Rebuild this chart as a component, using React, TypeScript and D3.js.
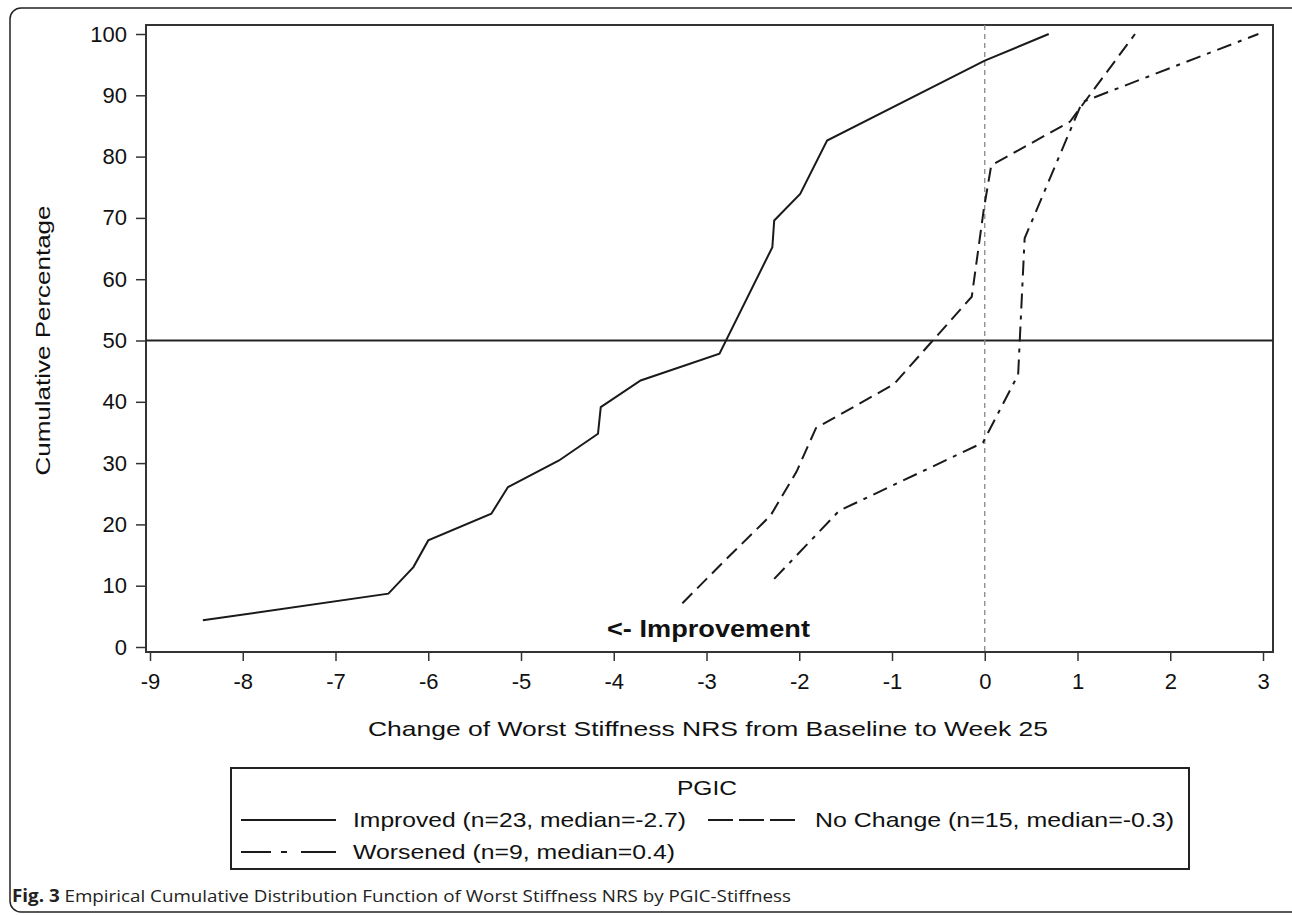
import React, { useEffect, useRef } from "react";
import * as d3 from "d3";

// series: [change from baseline, cumulative %]
const improved: [number, number][] = [
  [-8.43, 4.35], [-6.43, 8.7], [-6.16, 13.04], [-6.0, 17.39], [-5.32, 21.74],
  [-5.14, 26.09], [-4.59, 30.43], [-4.17, 34.78], [-4.14, 39.13], [-3.71, 43.48],
  [-2.86, 47.83], [-2.29, 65.22], [-2.27, 69.57], [-1.99, 73.91], [-1.7, 82.61],
  [0.0, 95.65], [0.69, 100],
];
const noChange: [number, number][] = [
  [-3.26, 7.14], [-2.79, 14.29], [-2.31, 21.43], [-2.03, 28.57], [-1.82, 35.71],
  [-0.98, 42.86], [-0.14, 57.14], [-0.01, 71.43], [0.07, 78.57], [0.92, 85.71],
  [1.62, 100],
];
const worsened: [number, number][] = [
  [-2.27, 11.11], [-1.57, 22.22], [-0.02, 33.33], [0.36, 44.44], [0.43, 66.67],
  [1.05, 88.89], [2.95, 100],
];

const xTicks = [-9, -8, -7, -6, -5, -4, -3, -2, -1, 0, 1, 2, 3];
const yTicks = [0, 10, 20, 30, 40, 50, 60, 70, 80, 90, 100];
const legendItems = [
  "Improved (n=23, median=-2.7)",
  "No Change (n=15, median=-0.3)",
  "Worsened (n=9, median=0.4)",
];

const font = "'Liberation Sans', Arial, sans-serif";

export default function App() {
  const ref = useRef<SVGSVGElement>(null);

  useEffect(() => {
    const svg = d3.select(ref.current);
    svg.selectAll("*").remove();

    // outer rounded border
    svg.append("rect")
      .attr("x", 10).attr("y", 8).attr("width", 1296).attr("height", 904)
      .attr("rx", 11)
      .attr("fill", "none").attr("stroke", "#222").attr("stroke-width", 1.5);

    const x = d3.scaleLinear().domain([-9, 3]).range([150, 1263]);
    const y = d3.scaleLinear().domain([0, 100]).range([647, 34]);

    const frame = { left: 146, top: 25, right: 1273, bottom: 652 };

    // frame
    svg.append("rect")
      .attr("x", frame.left).attr("y", frame.top)
      .attr("width", frame.right - frame.left).attr("height", frame.bottom - frame.top)
      .attr("fill", "none").attr("stroke", "#333").attr("stroke-width", 2);

    // x axis
    const xAxis = d3.axisBottom(x).tickValues(xTicks).tickSize(9).tickPadding(12)
      .tickFormat((d) => String(d));
    const gx = svg.append("g").attr("transform", `translate(0, ${frame.bottom})`).call(xAxis);
    gx.select(".domain").remove();
    gx.selectAll("line").attr("stroke", "#333").attr("stroke-width", 1.5);
    gx.selectAll("text").attr("font-family", font).attr("font-size", 22).attr("fill", "#111");

    // y axis
    const yAxis = d3.axisLeft(y).tickValues(yTicks).tickSize(10).tickPadding(9);
    const gy = svg.append("g").attr("transform", `translate(${frame.left}, 0)`).call(yAxis);
    gy.select(".domain").remove();
    gy.selectAll("line").attr("stroke", "#333").attr("stroke-width", 1.5);
    gy.selectAll("text").attr("font-family", font).attr("font-size", 22).attr("fill", "#111");

    // reference lines
    svg.append("line")
      .attr("x1", frame.left).attr("x2", frame.right)
      .attr("y1", y(50)).attr("y2", y(50))
      .attr("stroke", "#222").attr("stroke-width", 2);
    svg.append("line")
      .attr("x1", x(0)).attr("x2", x(0))
      .attr("y1", frame.top).attr("y2", frame.bottom)
      .attr("stroke", "#888").attr("stroke-width", 1.3).attr("stroke-dasharray", "5 4");

    const line = d3.line<[number, number]>().x((d) => x(d[0])).y((d) => y(d[1]));

    const series = [
      { data: improved, dash: null },
      { data: noChange, dash: "14 7" },
      { data: worsened, dash: "15 7 4 7" },
    ];
    series.forEach((s) => {
      svg.append("path")
        .datum(s.data)
        .attr("d", line)
        .attr("fill", "none")
        .attr("stroke", "#1a1a1a")
        .attr("stroke-width", 2)
        .attr("stroke-dasharray", s.dash);
    });

    // improvement annotation
    svg.append("text")
      .attr("x", 607).attr("y", 637)
      .attr("font-family", "'Liberation Sans Narrow', 'Liberation Sans', Arial, sans-serif")
      .attr("font-weight", "bold")
      .attr("font-size", 23)
      .attr("fill", "#111")
      .attr("textLength", 203).attr("lengthAdjust", "spacingAndGlyphs")
      .text("<- Improvement");

    // axis labels
    svg.append("text")
      .attr("x", 368).attr("y", 736)
      .attr("font-family", font).attr("font-size", 21).attr("fill", "#111")
      .attr("textLength", 680).attr("lengthAdjust", "spacingAndGlyphs")
      .text("Change of Worst Stiffness NRS from Baseline to Week 25");
    svg.append("text")
      .attr("transform", `translate(50, ${y(50) + 135}) rotate(-90)`)
      .attr("font-family", font).attr("font-size", 21).attr("fill", "#111")
      .attr("textLength", 270).attr("lengthAdjust", "spacingAndGlyphs")
      .text("Cumulative Percentage");

    // legend
    const lg = svg.append("g");
    lg.append("rect")
      .attr("x", 231).attr("y", 768).attr("width", 958).attr("height", 101)
      .attr("fill", "none").attr("stroke", "#222").attr("stroke-width", 2);
    lg.append("text")
      .attr("x", 677).attr("y", 795)
      .attr("font-family", font).attr("font-size", 21).attr("fill", "#111")
      .attr("textLength", 60).attr("lengthAdjust", "spacingAndGlyphs")
      .text("PGIC");

    const legendPos = [
      { x1: 241, x2: 336, tx: 353, ty: 827, w: 333, dash: null },
      { x1: 708, x2: 796, tx: 815, ty: 827, w: 359, dash: "25 6" },
      { x1: 241, x2: 336, tx: 353, ty: 859, w: 322, dash: "30 10 6 14 40" },
    ];
    legendItems.forEach((label, i) => {
      const p = legendPos[i];
      lg.append("line")
        .attr("x1", p.x1).attr("x2", p.x2)
        .attr("y1", p.ty - 7).attr("y2", p.ty - 7)
        .attr("stroke", "#1a1a1a").attr("stroke-width", 2)
        .attr("stroke-dasharray", p.dash);
      lg.append("text")
        .attr("x", p.tx).attr("y", p.ty)
        .attr("font-family", font).attr("font-size", 21).attr("fill", "#111")
        .attr("textLength", p.w).attr("lengthAdjust", "spacingAndGlyphs")
        .text(label);
    });

    // caption
    const cap = svg.append("text")
      .attr("x", 12).attr("y", 902)
      .attr("font-family", "'Open Sans', 'Noto Sans', sans-serif")
      .attr("font-size", 17).attr("fill", "#222")
      .attr("textLength", 779).attr("lengthAdjust", "spacingAndGlyphs");
    cap.append("tspan").attr("font-weight", "bold").text("Fig. 3");
    cap.append("tspan").text(" Empirical Cumulative Distribution Function of Worst Stiffness NRS by PGIC-Stiffness");
  }, []);

  return (
    <svg
      ref={ref}
      width={1292}
      height={915}
      style={{ position: "absolute", left: 0, top: 0, background: "#fff" }}
    />
  );
}
